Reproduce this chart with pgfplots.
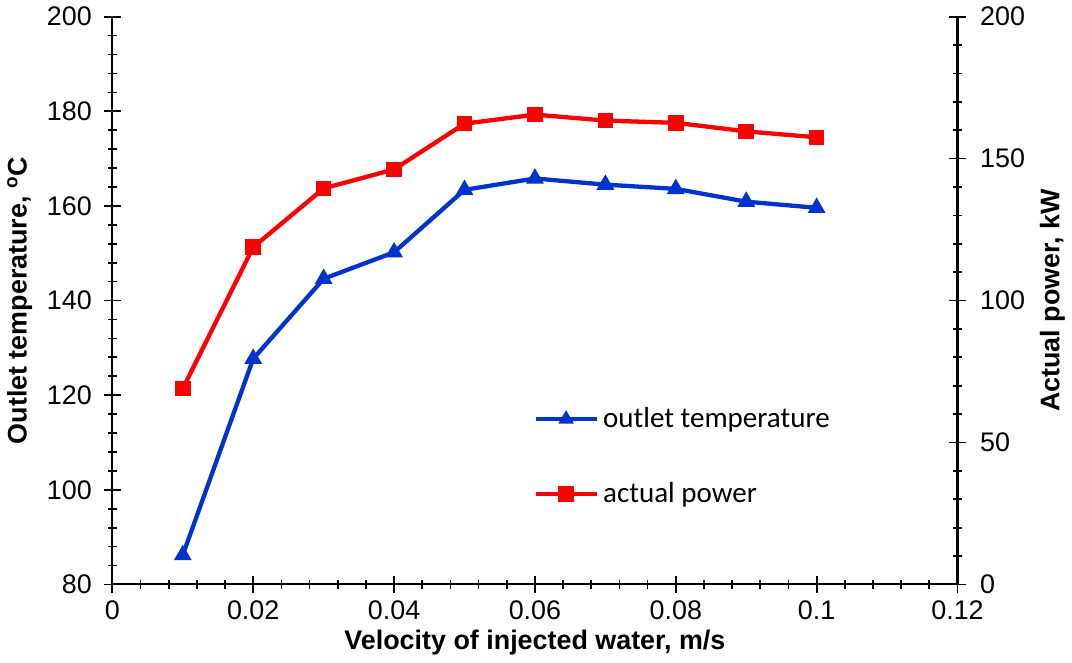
\documentclass[border=0pt]{standalone}
\usepackage{pgfplots}
\pgfplotsset{compat=1.18}
\usepackage{fontspec}
\setmainfont{Liberation Sans}
\newfontfamily\legfont{Carlito}
\definecolor{myblue}{RGB}{0,51,204}
\definecolor{myred}{RGB}{255,0,0}
\pgfplotsset{
  common/.style={
    scale only axis, width=393pt, height=264pt,
    xmin=0, xmax=0.12,
    tick align=center,
    major tick length=8pt, minor tick length=4pt,
    every tick/.style={black, line width=0.8pt},
    axis line style={line width=1pt},
    tick label style={font=\fontsize{12.5}{14}\selectfont},
    /pgf/number format/assume math mode=true,
    legend image code/.code={\draw[mark repeat=2,mark phase=2,#1] plot coordinates {(0cm,0cm)(0.5cm,0cm)(1cm,0cm)};},
  }
}
\begin{document}
\begin{tikzpicture}
\begin{axis}[common,
  axis x line=bottom, axis y line=left,
  axis line style={-},
  ymin=80, ymax=200,
  ytick={80,100,...,200}, minor y tick num=4,
  xtick={0,0.02,...,0.12}, minor x tick num=4,
  scaled x ticks=false,
  xticklabels={0,0.02,0.04,0.06,0.08,0.1,0.12},
  yticklabel style={xshift=-2pt},
  xlabel={Velocity of injected water, m/s},
  ylabel={Outlet temperature, \textsuperscript{o}C},
  xlabel style={font=\bfseries\fontsize{12.5}{14}\selectfont, yshift=2pt},
  ylabel style={font=\bfseries\fontsize{12.5}{14}\selectfont, yshift=0pt},
]
\addplot[myblue, line width=2pt, mark=triangle*, mark size=2.8pt, mark options={solid}] coordinates {
(0.01,86.2) (0.02,127.7) (0.03,144.6) (0.04,150.2) (0.05,163.4)
(0.06,165.8) (0.07,164.5) (0.08,163.6) (0.09,160.9) (0.1,159.6)};
\end{axis}
\begin{axis}[common,
  axis x line=none, axis y line=right,
  axis line style={-},
  ymin=0, ymax=200,
  ytick={0,50,...,200}, minor y tick num=4,
  yticklabel style={xshift=3pt},
  ylabel={Actual power, kW},
  ylabel style={font=\bfseries\fontsize{12.5}{14}\selectfont},
  legend style={at={(0.49,0.225)}, anchor=west, draw=none, fill=none,
    font=\legfont\fontsize{13.5}{15}\selectfont, row sep=20pt,
    legend cell align=left},
]
\addlegendimage{myblue, line width=2pt, mark=triangle*, mark size=2.2pt}
\addlegendentry{outlet temperature}
\addplot[myred, line width=2pt, mark=square*, mark size=2.6pt] coordinates {
(0.01,69.0) (0.02,118.8) (0.03,139.5) (0.04,146.2) (0.05,162.3)
(0.06,165.5) (0.07,163.4) (0.08,162.6) (0.09,159.6) (0.1,157.5)};
\addlegendentry{actual power}
\end{axis}
\end{tikzpicture}
\end{document}
